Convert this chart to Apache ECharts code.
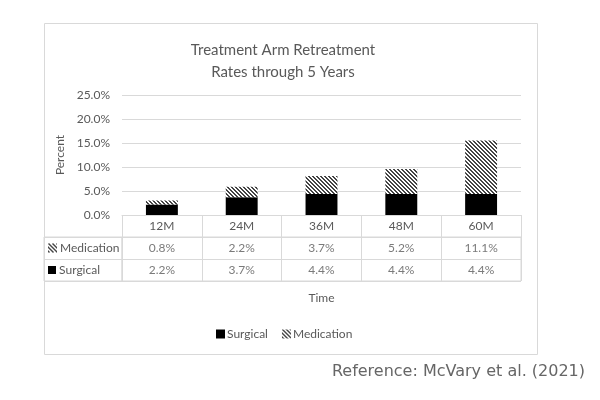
<!DOCTYPE html>
<html>
<head>
<meta charset="utf-8">
<script src="https://cdn.jsdelivr.net/npm/echarts@6/dist/echarts.min.js"></script>
<style>
html, body { margin: 0; padding: 0; background: #fff; }
#chart { width: 600px; height: 400px; }
</style>
</head>
<body>
<div id="chart"></div>
<script>
// data
const months = ['12M', '24M', '36M', '48M', '60M'];
const surgical = [2.2, 3.7, 4.4, 4.4, 4.4];
const medication = [0.8, 2.2, 3.7, 5.2, 11.1];
const rows = ['Surgical', 'Medication'];

const gray = '#595959';
const line = '#d9d9d9';
const font = 'Lato';

// diagonal hatch used for the medication bars
function hatch(size) {
	const c = document.createElement('canvas');
	c.width = size;
	c.height = size;
	const ctx = c.getContext('2d');
	ctx.fillStyle = '#fff';
	ctx.fillRect(0, 0, size, size);
	ctx.fillStyle = '#444';
	for (let y = 0; y < size; y++) {
		for (let x = 0; x < size; x++) {
			const d = ((x - y) % 4 + 4) % 4;
			if (d === 0 || d === 1) ctx.fillRect(x, y, 1, 1);
		}
	}
	return c;
}
const hatchTile = hatch(4);
const hatchIcon = hatch(9);
const hatchFill = { image: hatchTile, repeat: 'repeat' };

// table cells
const cellData = [];
months.forEach((m, i) => {
	cellData.push([i, 0, surgical[i]]);
	cellData.push([i, 1, medication[i]]);
});

const myChart = echarts.init(document.getElementById('chart'));
const option = {
	animation: false,
	textStyle: { fontFamily: font },
	title: {
		text: 'Treatment Arm Retreatment\nRates through 5 Years',
		left: 278,
		top: 34,
		textAlign: 'center',
		textStyle: {
			fontFamily: font,
			fontSize: 15,
			fontWeight: 'normal',
			color: gray,
			lineHeight: 22
		}
	},
	legend: {
		data: ['Surgical', 'Medication'],
		left: 211,
		top: 323,
		icon: 'rect',
		itemWidth: 9,
		itemHeight: 9,
		itemGap: 14,
		selectedMode: false,
		textStyle: { fontFamily: font, fontSize: 12, color: gray, padding: [0, 0, 0, -3] }
	},
	grid: [
		{ left: 122, top: 95, width: 399, height: 120 },
		{ left: 122, top: 237, width: 399, height: 44, show: true, borderColor: line, borderWidth: 1 },
		{ left: 44, top: 237, width: 78, height: 44, show: true, borderColor: line, borderWidth: 1 }
	],
	xAxis: [
		{
			gridIndex: 0,
			type: 'category',
			data: months,
			name: 'Time',
			nameLocation: 'middle',
			nameGap: 77,
			nameTextStyle: { fontFamily: font, fontSize: 12, color: gray },
			axisLine: { lineStyle: { color: line } },
			axisTick: { show: true, length: 22, interval: 0, lineStyle: { color: line } },
			axisLabel: { margin: 5, fontSize: 12, color: gray, fontFamily: font }
		},
		{
			gridIndex: 1,
			type: 'category',
			data: months,
			axisLine: { show: false },
			axisTick: { show: false },
			axisLabel: { show: false },
			splitLine: { show: true, interval: 0, lineStyle: { color: line } }
		},
		{
			gridIndex: 2,
			type: 'value',
			show: false
		}
	],
	yAxis: [
		{
			gridIndex: 0,
			type: 'value',
			min: 0,
			max: 25,
			interval: 5,
			name: 'Percent',
			nameLocation: 'middle',
			nameGap: 56,
			nameTextStyle: { fontFamily: font, fontSize: 12, color: gray },
			axisLine: { show: false },
			axisTick: { show: false },
			axisLabel: { margin: 12, fontSize: 12, color: gray, fontFamily: font, formatter: v => v.toFixed(1) + '%' },
			splitLine: { lineStyle: { color: line } }
		},
		{
			gridIndex: 1,
			type: 'category',
			data: rows,
			axisLine: { show: false },
			axisTick: { show: false },
			splitLine: { show: true, interval: 0, lineStyle: { color: line } },
			axisLabel: {
				align: 'left',
				margin: 74,
				fontSize: 12,
				color: gray,
				fontFamily: font,
				formatter: v => v === 'Medication' ? '{ht|} Medication' : '{sq|} Surgical',
				rich: {
					ht: { width: 9, height: 9, backgroundColor: { image: hatchIcon } },
					sq: { width: 8, height: 8, backgroundColor: '#000' }
				}
			}
		},
		{
			gridIndex: 2,
			type: 'category',
			data: rows,
			axisLine: { show: false },
			axisTick: { show: false },
			axisLabel: { show: false },
			splitLine: { show: true, interval: 0, lineStyle: { color: line } }
		}
	],
	graphic: [
		{
			type: 'rect',
			silent: true,
			z: -1,
			shape: { x: 44.5, y: 23.5, width: 493, height: 331 },
			style: { fill: 'none', stroke: line, lineWidth: 1 }
		},
		{
			type: 'text',
			silent: true,
			x: 585,
			y: 372,
			style: {
				text: 'Reference: McVary et al. (2021)',
				align: 'right',
				verticalAlign: 'middle',
				font: '16px "DejaVu Sans"',
				fill: '#666'
			}
		}
	],
	series: [
		{
			name: 'Surgical',
			type: 'bar',
			stack: 'total',
			barWidth: '40%',
			data: surgical,
			itemStyle: { color: '#000' }
		},
		{
			name: 'Medication',
			type: 'bar',
			stack: 'total',
			barWidth: '40%',
			data: medication,
			itemStyle: { color: hatchFill }
		},
		{
			name: 'table',
			type: 'scatter',
			xAxisIndex: 1,
			yAxisIndex: 1,
			symbolSize: 1,
			itemStyle: { color: 'transparent' },
			data: cellData,
			label: {
				show: true,
				position: 'inside',
				fontSize: 12,
				color: gray,
				fontFamily: font,
				formatter: p => p.value[2].toFixed(1) + '%'
			}
		}
	]
};
myChart.setOption(option);
</script>
</body>
</html>
